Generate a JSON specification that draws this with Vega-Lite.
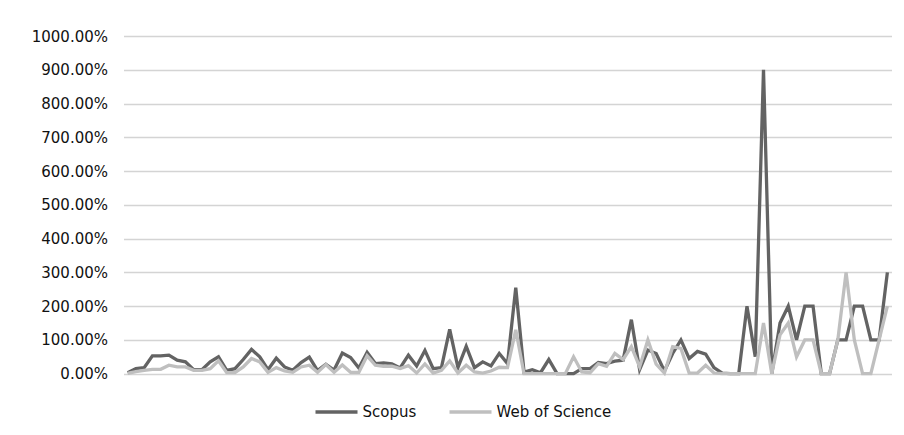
{
  "$schema": "https://vega.github.io/schema/vega-lite/v6.json",
  "autosize": "none",
  "width": 768,
  "height": 337.7,
  "padding": {"left": 123.5, "top": 36, "right": 12.5, "bottom": 61.3},
  "background": "white",
  "data": {"values": [
    {"i":0,"Scopus":0.03,"Web of Science":0.01},
    {"i":1,"Scopus":0.15,"Web of Science":0.06},
    {"i":2,"Scopus":0.18,"Web of Science":0.10},
    {"i":3,"Scopus":0.53,"Web of Science":0.13},
    {"i":4,"Scopus":0.53,"Web of Science":0.13},
    {"i":5,"Scopus":0.55,"Web of Science":0.25},
    {"i":6,"Scopus":0.40,"Web of Science":0.20},
    {"i":7,"Scopus":0.35,"Web of Science":0.20},
    {"i":8,"Scopus":0.12,"Web of Science":0.10},
    {"i":9,"Scopus":0.12,"Web of Science":0.10},
    {"i":10,"Scopus":0.35,"Web of Science":0.15},
    {"i":11,"Scopus":0.50,"Web of Science":0.38},
    {"i":12,"Scopus":0.10,"Web of Science":0.03},
    {"i":13,"Scopus":0.15,"Web of Science":0.03},
    {"i":14,"Scopus":0.42,"Web of Science":0.20},
    {"i":15,"Scopus":0.72,"Web of Science":0.45},
    {"i":16,"Scopus":0.50,"Web of Science":0.35},
    {"i":17,"Scopus":0.12,"Web of Science":0.04},
    {"i":18,"Scopus":0.46,"Web of Science":0.18},
    {"i":19,"Scopus":0.20,"Web of Science":0.08},
    {"i":20,"Scopus":0.10,"Web of Science":0.04},
    {"i":21,"Scopus":0.33,"Web of Science":0.20},
    {"i":22,"Scopus":0.49,"Web of Science":0.25},
    {"i":23,"Scopus":0.09,"Web of Science":0.04},
    {"i":24,"Scopus":0.28,"Web of Science":0.27},
    {"i":25,"Scopus":0.11,"Web of Science":0.04},
    {"i":26,"Scopus":0.61,"Web of Science":0.26},
    {"i":27,"Scopus":0.48,"Web of Science":0.04},
    {"i":28,"Scopus":0.17,"Web of Science":0.04},
    {"i":29,"Scopus":0.63,"Web of Science":0.53},
    {"i":30,"Scopus":0.30,"Web of Science":0.25},
    {"i":31,"Scopus":0.32,"Web of Science":0.22},
    {"i":32,"Scopus":0.29,"Web of Science":0.22},
    {"i":33,"Scopus":0.17,"Web of Science":0.15},
    {"i":34,"Scopus":0.55,"Web of Science":0.24},
    {"i":35,"Scopus":0.23,"Web of Science":0.02},
    {"i":36,"Scopus":0.69,"Web of Science":0.29},
    {"i":37,"Scopus":0.15,"Web of Science":0.02},
    {"i":38,"Scopus":0.18,"Web of Science":0.10},
    {"i":39,"Scopus":1.31,"Web of Science":0.38},
    {"i":40,"Scopus":0.18,"Web of Science":0.02},
    {"i":41,"Scopus":0.81,"Web of Science":0.25},
    {"i":42,"Scopus":0.18,"Web of Science":0.05},
    {"i":43,"Scopus":0.35,"Web of Science":0.02},
    {"i":44,"Scopus":0.23,"Web of Science":0.08},
    {"i":45,"Scopus":0.60,"Web of Science":0.19},
    {"i":46,"Scopus":0.30,"Web of Science":0.18},
    {"i":47,"Scopus":2.55,"Web of Science":1.30},
    {"i":48,"Scopus":0.05,"Web of Science":0.0},
    {"i":49,"Scopus":0.12,"Web of Science":0.0},
    {"i":50,"Scopus":0.03,"Web of Science":0.0},
    {"i":51,"Scopus":0.42,"Web of Science":0.0},
    {"i":52,"Scopus":0.0,"Web of Science":0.0},
    {"i":53,"Scopus":0.0,"Web of Science":0.0},
    {"i":54,"Scopus":0.0,"Web of Science":0.50},
    {"i":55,"Scopus":0.15,"Web of Science":0.05},
    {"i":56,"Scopus":0.15,"Web of Science":0.03},
    {"i":57,"Scopus":0.33,"Web of Science":0.30},
    {"i":58,"Scopus":0.30,"Web of Science":0.22},
    {"i":59,"Scopus":0.37,"Web of Science":0.60},
    {"i":60,"Scopus":0.40,"Web of Science":0.42},
    {"i":61,"Scopus":1.60,"Web of Science":0.80},
    {"i":62,"Scopus":0.12,"Web of Science":0.20},
    {"i":63,"Scopus":0.70,"Web of Science":1.00},
    {"i":64,"Scopus":0.60,"Web of Science":0.28},
    {"i":65,"Scopus":0.08,"Web of Science":0.02},
    {"i":66,"Scopus":0.60,"Web of Science":0.80},
    {"i":67,"Scopus":1.00,"Web of Science":0.75},
    {"i":68,"Scopus":0.45,"Web of Science":0.02},
    {"i":69,"Scopus":0.66,"Web of Science":0.02},
    {"i":70,"Scopus":0.58,"Web of Science":0.25},
    {"i":71,"Scopus":0.18,"Web of Science":0.02},
    {"i":72,"Scopus":0.02,"Web of Science":0.0},
    {"i":73,"Scopus":0.0,"Web of Science":0.0},
    {"i":74,"Scopus":0.0,"Web of Science":0.0},
    {"i":75,"Scopus":2.00,"Web of Science":0.0},
    {"i":76,"Scopus":0.50,"Web of Science":0.0},
    {"i":77,"Scopus":9.00,"Web of Science":1.50},
    {"i":78,"Scopus":0.0,"Web of Science":0.0},
    {"i":79,"Scopus":1.50,"Web of Science":1.15},
    {"i":80,"Scopus":2.00,"Web of Science":1.50},
    {"i":81,"Scopus":1.00,"Web of Science":0.50},
    {"i":82,"Scopus":2.00,"Web of Science":1.00},
    {"i":83,"Scopus":2.00,"Web of Science":1.00},
    {"i":84,"Scopus":0.0,"Web of Science":0.0},
    {"i":85,"Scopus":0.0,"Web of Science":0.0},
    {"i":86,"Scopus":1.00,"Web of Science":1.00},
    {"i":87,"Scopus":1.00,"Web of Science":3.00},
    {"i":88,"Scopus":2.00,"Web of Science":1.00},
    {"i":89,"Scopus":2.00,"Web of Science":0.0},
    {"i":90,"Scopus":1.00,"Web of Science":0.0},
    {"i":91,"Scopus":1.00,"Web of Science":1.00},
    {"i":92,"Scopus":3.00,"Web of Science":2.00}
  ]},
  "transform": [{"fold": ["Scopus", "Web of Science"], "as": ["series", "value"]}],
  "mark": {"type": "line", "strokeWidth": 3.3, "strokeJoin": "miter", "strokeCap": "butt"},
  "encoding": {
    "x": {"field": "i", "type": "ordinal", "scale": {"type": "point", "padding": 0.5}, "axis": null},
    "y": {"field": "value", "type": "quantitative",
          "scale": {"domain": [0, 10], "nice": false, "zero": true},
          "axis": {"values": [0,1,2,3,4,5,6,7,8,9,10], "format": ".2%", "title": null,
                   "domain": false, "ticks": false, "labelPadding": 16,
                   "labelFont": "DejaVu Sans", "labelFontSize": 15, "labelColor": "#111111",
                   "gridColor": "#d4d4d4", "gridWidth": 1.3}},
    "color": {"field": "series", "type": "nominal",
              "scale": {"domain": ["Scopus", "Web of Science"], "range": ["#636363", "#bfbfbf"]},
              "legend": {"title": null, "orient": "none", "direction": "horizontal",
                         "legendX": 190, "legendY": 353,
                         "symbolType": "stroke", "symbolSize": 1764, "symbolStrokeWidth": 3.5,
                         "labelFont": "DejaVu Sans", "labelFontSize": 15, "labelColor": "#111111",
                         "labelOffset": 3, "columnPadding": 26}}
  },
  "config": {"view": {"stroke": null}}
}
